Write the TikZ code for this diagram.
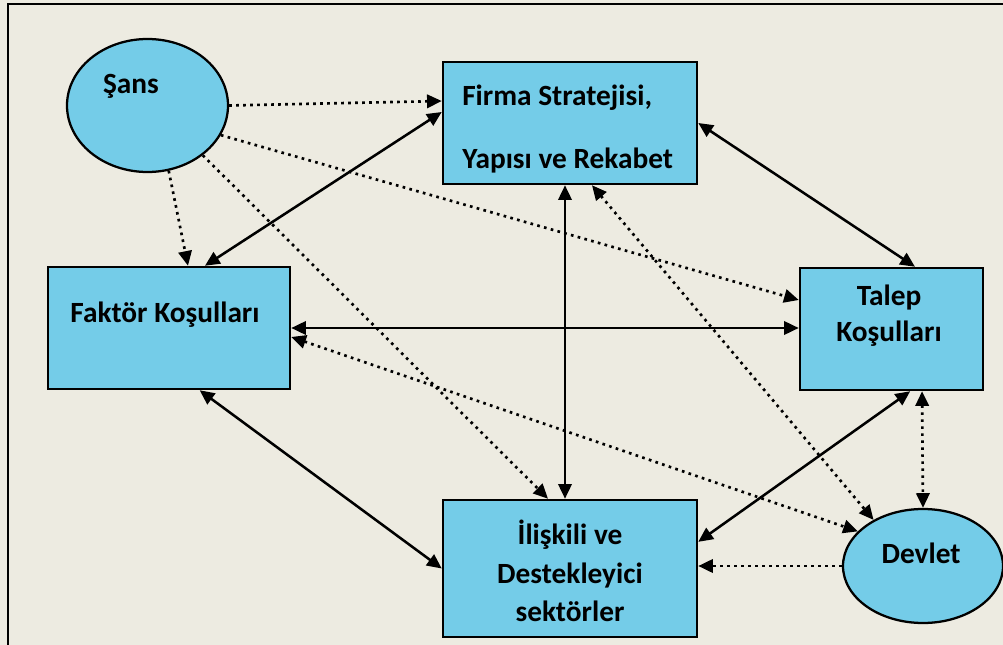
\documentclass[tikz,border=0pt]{standalone}
\usepackage{fontspec}
\setmainfont{Carlito}
\usetikzlibrary{arrows.meta}
\usetikzlibrary{shapes}
\tikzset{>={Triangle[length=11pt,width=10pt]}}
\definecolor{mavi}{HTML}{74CCE8}
\definecolor{zemin}{HTML}{EDEBE1}

\begin{document}
\begin{tikzpicture}[x=0.75pt, y=-0.75pt,
            kutu/.style={draw=black, line width=1.9pt, fill=mavi, inner sep=0pt, minimum height=91.5pt},
            elips/.style={ellipse, draw=black, line width=1.7pt, fill=mavi, inner sep=0pt},
            yazi/.style={font=\fontsize{22}{27}\selectfont\bfseries, inner sep=0pt},
            duz/.style={<->, line width=1.9pt},
            nokta/.style={line width=2pt, dash pattern=on 2pt off 3.25pt}
        ]
            \useasboundingbox (0,0) rectangle (1003,645);
            \fill[zemin] (0,0) rectangle (1003,645);
            \draw[line width=1.9pt] (8,645) -- (8,4) -- (1003,4);
            % shapes
            \node[elips, minimum width=120.75pt, minimum height=99.75pt] (sans) at (147.5,105.5) {};
            \node[kutu, minimum width=190.5pt] (firma) at (570,123) {};
            \node[kutu, minimum width=181.5pt] (fak) at (169,328) {};
            \node[kutu, minimum width=137.25pt] (talep) at (891.5,329) {};
            \node[kutu, minimum width=190.5pt, minimum height=102.75pt] (ilis) at (570,568.5) {};
            \node[elips, minimum width=120pt, minimum height=85.5pt] (devlet) at (923,566) {};
            % label
            \node[yazi] (sansT) at (131,86) {Şans};
            \node[yazi, anchor=west, align=left] (firmaT) at (462,129) {Firma Stratejisi,\\[20pt]Yapısı ve Rekabet};
            \node[yazi] (fakT) at (165,315) {Faktör Koşulları};
            \node[yazi, align=center] (talepT) at (889,316) {Talep\\Koşulları};
            \node[yazi, align=center, font=\fontsize{22}{29}\selectfont\bfseries] (ilisT) at (570,571) {İlişkili ve\\Destekleyici\\sektörler};
            \node[yazi] (devletT) at (921,553) {Devlet};
            % paths
            \draw[duz] ([yshift=8.25pt]firma.west) -- ([xshift=27pt]fak.north);
            \draw[duz] (firma.east) -- ([xshift=17.6pt]talep.north);
            \draw[duz] (fak.east) -- (fak.east -| talep.west);
            \draw[duz] ([xshift=-3.75pt]firma.south) -- ([xshift=-3.75pt]ilis.north);
            \draw[duz] ([xshift=23pt]fak.south) -- (ilis.west);
            \draw[duz] ([xshift=14pt]talep.south) -- ([yshift=20pt]ilis.east);
            \draw[nokta, ->] (sans.east) -- ([yshift=16.5pt]firma.west);
            \draw[nokta, ->] (sans.-22) -- ([yshift=21.75pt]talep.west);
            \draw[nokta, ->] (sans.-72) -- ([xshift=14.25pt]fak.north);
            \draw[nokta, ->] (sans.-42) -- ([xshift=-16.5pt]ilis.north);
            \draw[nokta, <->] ([xshift=16.5pt]firma.south) -- (devlet.137);
            \draw[nokta, <->] ([yshift=-6.75pt]fak.east) -- (devlet.152);
            \draw[nokta, <->] ([xshift=22.9pt]talep.south) -- (devlet.north);
            \draw[nokta, ->] (devlet.west) -- (devlet.west -| ilis.east);
        \end{tikzpicture}
\end{document}
